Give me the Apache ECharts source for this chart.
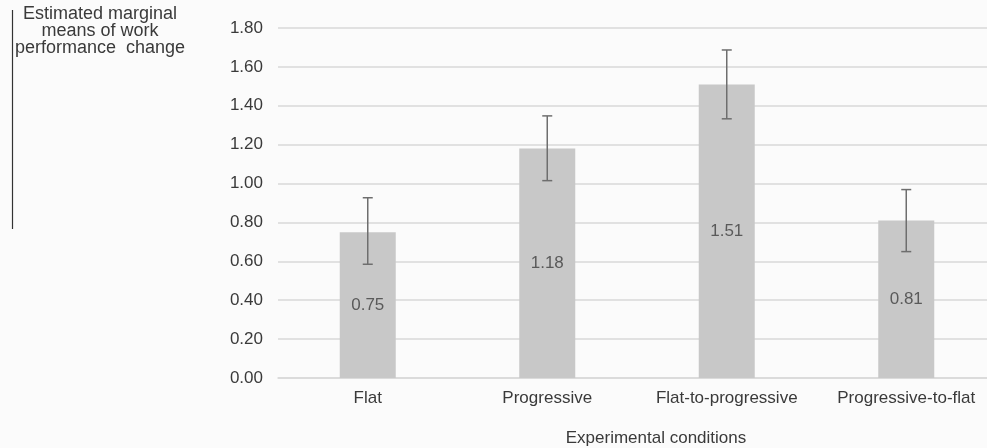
<!DOCTYPE html>
<html>
<head>
<meta charset="utf-8">
<script src="https://cdn.jsdelivr.net/npm/echarts@6/dist/echarts.min.js"></script>
<style>
html,body{margin:0;padding:0;background:#fbfbfb;}
#chart{width:987px;height:448px;}
</style>
</head>
<body>
<div id="chart"></div>
<script>
const categories = ['Flat', 'Progressive', 'Flat-to-progressive', 'Progressive-to-flat'];
const means = [0.75, 1.18, 1.51, 0.81];
const lower = [0.585, 1.015, 1.333, 0.650];
const upper = [0.927, 1.348, 1.687, 0.969];
const yTicks = [0, 0.2, 0.4, 0.6, 0.8, 1.0, 1.2, 1.4, 1.6, 1.8];
const yTitle = 'Estimated marginal\nmeans of work\nperformance  change';
const xTitle = 'Experimental conditions';

const font = 'Liberation Sans, Arial, sans-serif';
const chart = echarts.init(document.getElementById('chart'));
const errData = categories.map((c, i) => [i, lower[i], upper[i]]);

chart.setOption({
  backgroundColor: '#fbfbfb',
  animation: false,
  textStyle: { fontFamily: font },
  grid: { left: 278, width: 718, top: 28, bottom: 70, containLabel: false, outerBoundsMode: 'none' },
  graphic: [
    { type: 'text', x: 100, y: 6, style: { text: yTitle, font: '18px ' + font, fill: '#3a3a3a', align: 'center', verticalAlign: 'top', lineHeight: 17 } },
    { type: 'line', shape: { x1: 12.5, y1: 10, x2: 12.5, y2: 229 }, style: { stroke: '#333', lineWidth: 1.2 } }
  ],
  xAxis: {
    type: 'category',
    data: categories,
    name: xTitle,
    nameLocation: 'middle',
    nameGap: 52,
    nameTextStyle: { fontSize: 17, color: '#3a3a3a', fontFamily: font, padding: [0, 0, 0, 38] },
    axisLine: { show: true, lineStyle: { color: '#d9d9d9', width: 1.5 } },
    axisTick: { show: false },
    axisLabel: { fontSize: 17, color: '#3a3a3a', margin: 12, fontFamily: font, interval: 0 }
  },
  yAxis: {
    type: 'value',
    min: yTicks[0],
    max: yTicks[yTicks.length - 1],
    interval: 0.2,
    axisLine: { show: false },
    axisTick: { show: false },
    splitLine: { lineStyle: { color: '#d9d9d9', width: 1.5 } },
    axisLabel: { fontSize: 17, color: '#3a3a3a', margin: 15, fontFamily: font, formatter: v => v.toFixed(2) }
  },
  series: [
    {
      type: 'bar',
      data: means,
      barWidth: 56,
      itemStyle: { color: '#c8c8c8' },
      label: { show: true, position: 'inside', fontSize: 17, color: '#5a5a5a', fontFamily: font, formatter: p => p.value.toFixed(2) },
      z: 2
    },
    {
      type: 'custom',
      data: errData,
      z: 5,
      renderItem: function (params, api) {
        const x = api.coord([api.value(0), api.value(1)])[0];
        const yLo = api.coord([api.value(0), api.value(1)])[1];
        const yHi = api.coord([api.value(0), api.value(2)])[1];
        const hw = 5;
        const st = { stroke: '#6e6e6e', lineWidth: 1.5, fill: null };
        return {
          type: 'group',
          children: [
            { type: 'line', shape: { x1: x, y1: yLo, x2: x, y2: yHi }, style: st },
            { type: 'line', shape: { x1: x - hw, y1: yLo, x2: x + hw, y2: yLo }, style: st },
            { type: 'line', shape: { x1: x - hw, y1: yHi, x2: x + hw, y2: yHi }, style: st }
          ]
        };
      }
    }
  ]
});
</script>
</body>
</html>
